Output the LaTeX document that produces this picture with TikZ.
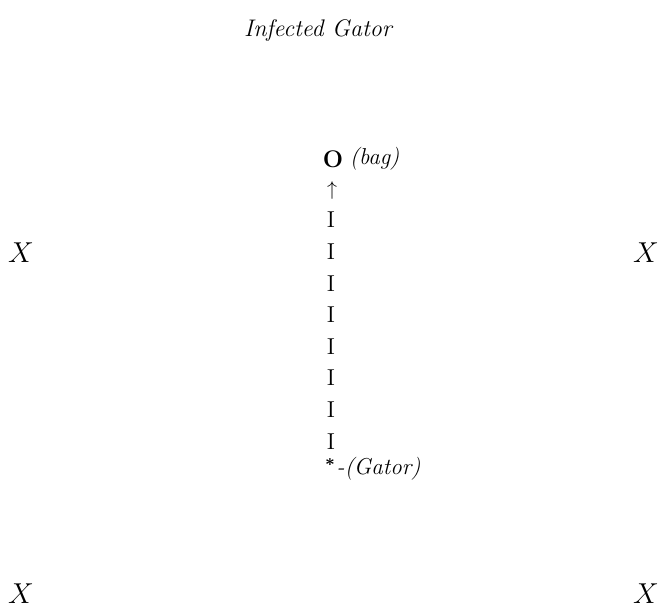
\documentclass[tikz,border=0pt]{standalone}
\usepackage{amsmath,amssymb}
\usepackage{tikz}
\usetikzlibrary{positioning}

\tikzset{
    mark x/.style={font=\fontsize{14.5}{17}\selectfont, inner sep=0pt},
    link/.style={font=\fontsize{11.5}{13}\selectfont, inner sep=0pt},
    tag/.style={font=\fontsize{11.5}{13}\selectfont\itshape, inner sep=0pt}
}

\begin{document}
\begin{tikzpicture}[x=0.5pt, y=-0.5pt]
\useasboundingbox (0,0) rectangle (659,607);

% === Title ===
\node[font=\fontsize{12}{14}\selectfont\itshape] (title) at (318,30) {Infected Gator};

% === Corner marks ===
\node[mark x] (xleft)  at (21,253)  {$X$};
\node[mark x] (xright) at (646,253) {$X$};
\node[mark x] (xbotl)  at (21,594)  {$X$};
\node[mark x] (xbotr)  at (646,594) {$X$};

% === Column: bag at top, gator at bottom ===
\node[link, font=\fontsize{12}{13}\selectfont\bfseries] (bag) at (333,159) {O};
\node[tag, anchor=west] (baglbl) at ([xshift=3pt]bag.east) {(bag)};

\node[link, font=\fontsize{10}{12}\selectfont] (up) at (332,190) {$\uparrow$};

\foreach \i in {0,...,7} {
    \node[link] (seg\i) at (331,{220+31.6*\i}) {I};
}

\node[link, font=\fontsize{8}{10}\selectfont\bfseries] (gator) at (330,464) {*};
\node[tag, anchor=west] (gatorlbl) at ([xshift=0.5pt]gator.east |- 0,469) {-(Gator)};

\end{tikzpicture}
\end{document}
